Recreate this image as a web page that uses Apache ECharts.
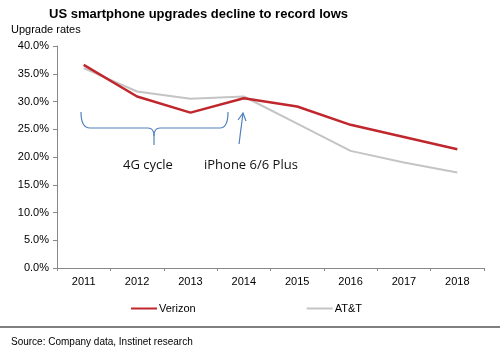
<!DOCTYPE html>
<html><head><meta charset="utf-8">
<script src="https://cdn.jsdelivr.net/npm/echarts@6/dist/echarts.min.js"></script>
<style>html,body{margin:0;padding:0;background:#fff}#c{width:500px;height:350px}</style>
</head><body><div id="c"></div>
<script>
const years = ['2011','2012','2013','2014','2015','2016','2017','2018'];
const verizon = [36.6, 30.9, 28.0, 30.6, 29.1, 25.8, 23.6, 21.4];
const att = [36.0, 31.8, 30.5, 30.9, 26.0, 21.1, 19.0, 17.2];
const yTicks = [0, 5, 10, 15, 20, 25, 30, 35, 40];

const chart = echarts.init(document.getElementById('c'));
const blue = '#4f81bd';
const bs = {stroke: blue, lineWidth: 1.2, fill: null};
chart.setOption({
  animation: false,
  textStyle: {fontFamily: 'Liberation Sans'},
  grid: {left: 57, right: 16, top: 46, bottom: 82},
  title: [
    {text: 'US smartphone upgrades decline to record lows', left: 44, top: 3,
     textStyle: {fontSize: 13, fontWeight: 'bold', color: '#000', fontFamily: 'Liberation Sans'}},
    {text: 'Upgrade rates', left: 6, top: 19,
     textStyle: {fontSize: 11, fontWeight: 'normal', color: '#000', fontFamily: 'Liberation Sans'}},
    {text: 'Source: Company data, Instinet research', left: 6, top: 332,
     textStyle: {fontSize: 10, fontWeight: 'normal', color: '#000', fontFamily: 'Liberation Sans'}}
  ],
  legend: {
    top: 298, left: 126, itemGap: 111, itemWidth: 26, itemHeight: 2,
    icon: 'rect',
    textStyle: {fontSize: 11, color: '#000', padding: [0, 0, 0, -3]},
    data: ['Verizon', 'AT&T']
  },
  xAxis: {
    type: 'category', data: years, boundaryGap: true,
    axisLine: {lineStyle: {color: '#888'}},
    axisTick: {show: true, lineStyle: {color: '#888'}, length: 3},
    axisLabel: {color: '#000', fontSize: 11, margin: 8}
  },
  yAxis: {
    type: 'value', min: 0, max: 40, interval: 5,
    splitLine: {show: false},
    axisLine: {show: true, lineStyle: {color: '#888'}},
    axisTick: {show: true, lineStyle: {color: '#888'}, length: 4},
    axisLabel: {color: '#000', fontSize: 11, margin: 8,
      formatter: v => yTicks.includes(v) ? v.toFixed(1) + '%' : ''}
  },
  series: [
    {name: 'Verizon', type: 'line', data: verizon, symbol: 'none',
     lineStyle: {color: '#c0272d', width: 2.5}, itemStyle: {color: '#c0272d'}, z: 3},
    {name: 'AT&T', type: 'line', data: att, symbol: 'none',
     lineStyle: {color: '#c4c4c4', width: 2}, itemStyle: {color: '#c4c4c4'}, z: 2}
  ],
  graphic: [
    {type: 'line', shape: {x1: 0, y1: 327, x2: 500, y2: 327}, style: {stroke: '#555', lineWidth: 1.5}},
    {type: 'bezierCurve', shape: {x1: 81, y1: 112, cpx1: 81, cpy1: 128, x2: 90, y2: 128}, style: bs},
    {type: 'line', shape: {x1: 90, y1: 128, x2: 148, y2: 128}, style: bs},
    {type: 'bezierCurve', shape: {x1: 148, y1: 128, cpx1: 154, cpy1: 128, x2: 154, y2: 136}, style: bs},
    {type: 'line', shape: {x1: 154, y1: 136, x2: 154, y2: 145}, style: bs},
    {type: 'bezierCurve', shape: {x1: 154, y1: 136, cpx1: 154, cpy1: 128, x2: 160, y2: 128}, style: bs},
    {type: 'line', shape: {x1: 160, y1: 128, x2: 220, y2: 128}, style: bs},
    {type: 'bezierCurve', shape: {x1: 220, y1: 128, cpx1: 228, cpy1: 128, x2: 228, y2: 112}, style: bs},
    {type: 'line', shape: {x1: 239, y1: 144, x2: 243, y2: 113}, style: bs},
    {type: 'polyline', shape: {points: [[238, 120], [243, 113], [246, 121]]}, style: bs},
    {type: 'text', left: 123, top: 159, style: {text: '4G cycle', fontSize: 13, fill: '#111', fontFamily: 'Open Sans'}},
    {type: 'text', left: 204, top: 159, style: {text: 'iPhone 6/6 Plus', fontSize: 13, fill: '#111', fontFamily: 'Open Sans'}}
  ]
});
</script></body></html>
